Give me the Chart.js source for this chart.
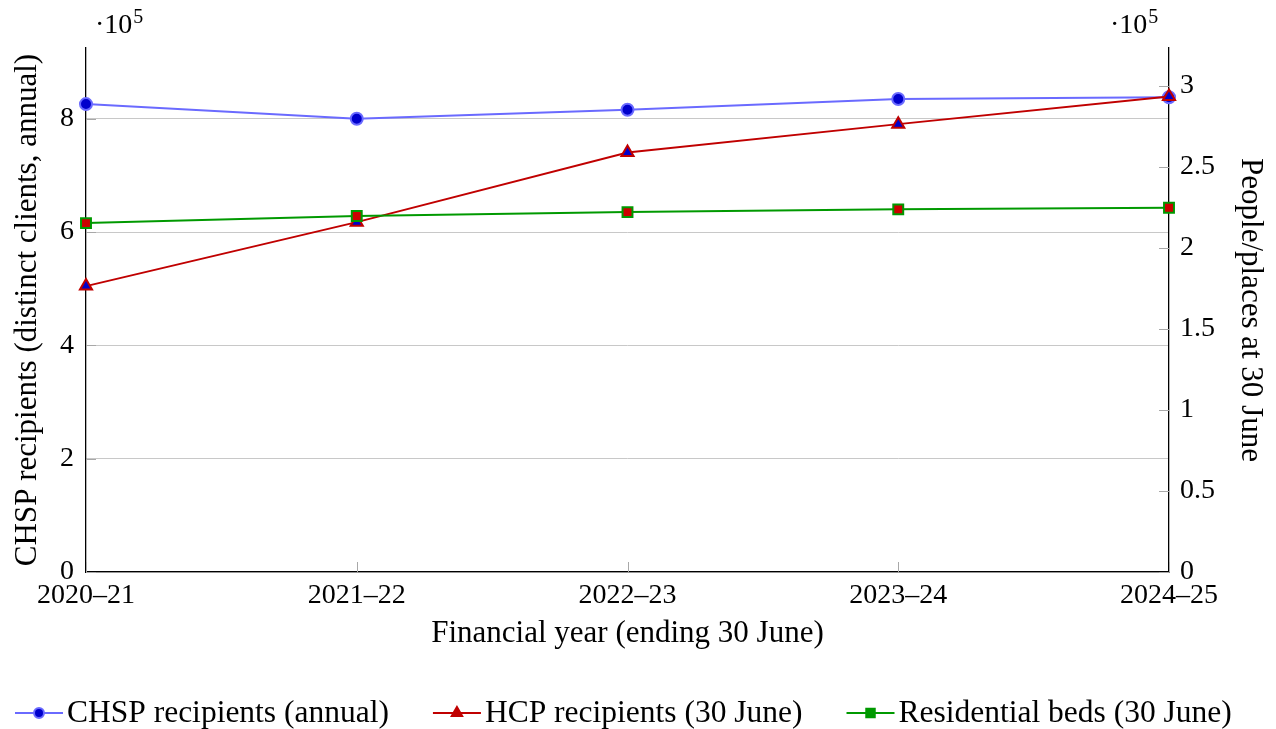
<!DOCTYPE html>
<html>
<head>
<meta charset="utf-8">
<script src="https://cdn.jsdelivr.net/npm/chart.js@4.4.1/dist/chart.umd.min.js"></script>
<style>
  html, body { margin: 0; padding: 0; background: #ffffff; }
  #wrap { width: 1276px; height: 729px; }
</style>
</head>
<body>
<div id="wrap"><canvas id="c" width="1276" height="729"></canvas></div>
<script>
// Financial years
const years = ['2020\u201321', '2021\u201322', '2022\u201323', '2023\u201324', '2024\u201325'];
// Commonwealth Home Support Programme clients over the year (left axis)
const chspRecipients = [826000, 800000, 816000, 835000, 838000];
// Home Care Package recipients at 30 June (right axis)
const hcpRecipients = [176500, 216000, 259000, 276500, 293500];
// Residential aged care places at 30 June (right axis)
const residentialBeds = [215400, 219800, 222200, 223900, 224900];

// Tick values for the two y axes
const leftTicks = [0, 200000, 400000, 600000, 800000];
const rightTicks = [0, 50000, 100000, 150000, 200000, 250000, 300000];

// Axis ranges
const leftMax = 925000;
const rightMax = 323500;
const scaleFactor = 1e5;

const SERIF = '"Liberation Serif", "DejaVu Serif", serif';
const tickFont = { family: SERIF, size: 28 };
const titleFont = { family: SERIF, size: 31 };

const fmt = v => String(Math.round((v / scaleFactor) * 100) / 100);

// small inward tick marks and the ·10^5 multipliers above each y axis
const axisDecor = {
  id: 'axisDecor',
  beforeDatasetsDraw(chart) {
    const { ctx, chartArea: a, scales } = chart;
    ctx.save();
    ctx.lineWidth = 1;
    ctx.strokeStyle = '#a8a8a8';
    ctx.beginPath();
    scales.x.ticks.forEach((t, i) => {
      const px = Math.round(scales.x.getPixelForTick(i)) + 0.5;
      ctx.moveTo(px, a.bottom);
      ctx.lineTo(px, a.bottom - 10);
    });
    scales.y.ticks.forEach(t => {
      const py = Math.round(scales.y.getPixelForValue(t.value)) + 0.5;
      ctx.moveTo(a.left, py);
      ctx.lineTo(a.left + 10, py);
    });
    scales.y1.ticks.forEach(t => {
      const py = Math.round(scales.y1.getPixelForValue(t.value)) + 0.5;
      ctx.moveTo(a.right, py);
      ctx.lineTo(a.right - 10, py);
    });
    ctx.stroke();
    ctx.restore();
  },
  afterDraw(chart) {
    const { ctx, chartArea: a } = chart;
    const drawMult = (x) => {
      ctx.save();
      ctx.fillStyle = '#000';
      ctx.textBaseline = 'alphabetic';
      ctx.textAlign = 'left';
      ctx.font = `28px ${SERIF}`;
      ctx.fillText('\u00b710', x, 33);
      const w = ctx.measureText('\u00b710').width;
      ctx.font = `20px ${SERIF}`;
      ctx.fillText('5', x + w + 1, 23);
      ctx.restore();
    };
    drawMult(a.left + 9);
    drawMult(a.right - 59);
  }
};

// legend row: sample line with marker, then the series name
const lineLegend = {
  id: 'lineLegend',
  afterDraw(chart) {
    const { ctx } = chart;
    const y = 713;
    const sampleW = 48, textGap = 4, itemGap = 44;
    ctx.save();
    ctx.font = `31.5px ${SERIF}`;
    let x = 15;
    chart.data.datasets.forEach(ds => {
      const w = ctx.measureText(ds.label).width;
      ctx.strokeStyle = ds.borderColor;
      ctx.lineWidth = 2;
      ctx.beginPath();
      ctx.moveTo(x, y);
      ctx.lineTo(x + sampleW, y);
      ctx.stroke();
      ctx.fillStyle = ds.legendFill;
      ctx.strokeStyle = ds.pointBorderColor;
      ctx.lineWidth = ds.pointBorderWidth;
      Chart.helpers.drawPoint(ctx, {
        pointStyle: ds.pointStyle,
        radius: ds.legendRadius,
        borderWidth: ds.pointBorderWidth,
        rotation: 0
      }, x + sampleW / 2, y);
      ctx.fillStyle = '#000';
      ctx.textAlign = 'left';
      ctx.textBaseline = 'middle';
      ctx.fillText(ds.label, x + sampleW + textGap, y + 1);
      x += sampleW + textGap + w + itemGap;
    });
    ctx.restore();
  }
};

const fixedTicks = values => scale => {
  scale.ticks = values.map(v => ({ value: v }));
};

new Chart(document.getElementById('c'), {
  type: 'line',
  data: {
    labels: years,
    datasets: [
      {
        label: 'CHSP recipients (annual)',
        data: chspRecipients,
        yAxisID: 'y',
        borderColor: '#6a6aff',
        borderWidth: 2,
        pointStyle: 'circle',
        pointRadius: 6,
        pointBackgroundColor: '#0000cc',
        pointBorderColor: '#6a6aff',
        pointBorderWidth: 2,
        legendFill: '#0000cc',
        legendRadius: 5,
        tension: 0,
        clip: false,
        order: 3
      },
      {
        label: 'HCP recipients (30 June)',
        data: hcpRecipients,
        yAxisID: 'y1',
        borderColor: '#c00000',
        borderWidth: 2,
        pointStyle: 'triangle',
        pointRadius: 7,
        pointBackgroundColor: '#0000cc',
        pointBorderColor: '#c00000',
        pointBorderWidth: 2,
        legendFill: '#c00000',
        legendRadius: 6,
        tension: 0,
        clip: false,
        order: 2
      },
      {
        label: 'Residential beds (30 June)',
        data: residentialBeds,
        yAxisID: 'y1',
        borderColor: '#009900',
        borderWidth: 2,
        pointStyle: 'rect',
        pointRadius: 7,
        pointBackgroundColor: '#cc0000',
        pointBorderColor: '#009900',
        pointBorderWidth: 2,
        legendFill: '#009900',
        legendRadius: 6,
        tension: 0,
        clip: false,
        order: 1
      }
    ]
  },
  options: {
    responsive: false,
    animation: false,
    events: [],
    layout: { padding: { top: 48, bottom: 67, left: 0, right: 0 } },
    plugins: {
      legend: { display: false },
      tooltip: { enabled: false },
      title: { display: false }
    },
    scales: {
      x: {
        type: 'category',
        offset: false,
        grid: { display: false, drawTicks: false },
        border: { display: true, color: '#000', width: 1.3 },
        ticks: { color: '#000', font: tickFont, padding: 7, maxRotation: 0, autoSkip: false },
        title: {
          display: true,
          text: 'Financial year (ending 30 June)',
          color: '#000',
          font: titleFont,
          padding: { top: 0, bottom: 10 }
        },
        afterFit(s) { s.height = 90; }
      },
      y: {
        type: 'linear',
        position: 'left',
        min: 0,
        max: leftMax,
        afterBuildTicks: fixedTicks(leftTicks),
        grid: { color: '#c8c8c8', lineWidth: 1, drawTicks: false },
        border: { display: true, color: '#000', width: 1.3 },
        ticks: {
          color: '#000',
          font: tickFont,
          padding: 12,
          callback: v => fmt(v)
        },
        title: {
          display: true,
          text: 'CHSP recipients (distinct clients, annual)',
          color: '#000',
          font: titleFont,
          padding: { top: 9, bottom: 0 }
        },
        afterFit(s) { s.width = 86; }
      },
      y1: {
        type: 'linear',
        position: 'right',
        min: 0,
        max: rightMax,
        afterBuildTicks: fixedTicks(rightTicks),
        grid: { drawOnChartArea: false, drawTicks: false },
        border: { display: true, color: '#000', width: 1.3 },
        ticks: {
          color: '#000',
          font: tickFont,
          padding: 11,
          callback: v => fmt(v)
        },
        title: {
          display: true,
          text: 'People/places at 30 June',
          color: '#000',
          font: titleFont,
          padding: { top: 7, bottom: 0 }
        },
        afterFit(s) { s.width = 107; }
      }
    }
  },
  plugins: [axisDecor, lineLegend]
});
</script>
</body>
</html>
